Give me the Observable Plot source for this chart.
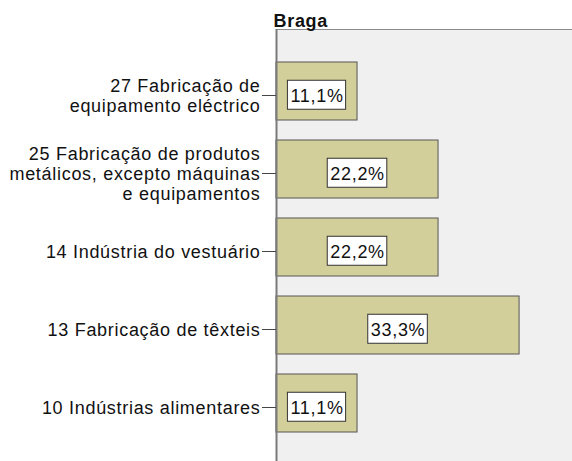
<!DOCTYPE html>
<html><head><meta charset="utf-8">
<script src="https://cdn.jsdelivr.net/npm/d3@7"></script>
<script src="https://cdn.jsdelivr.net/npm/@observablehq/plot@0.6"></script>
<style>
body{margin:0;background:#fff;}
svg{display:block}
svg text{letter-spacing:0.7px}
</style>
</head><body>
<script>
const title = "Braga";
const categories = [
  "27 Fabricação de\nequipamento eléctrico",
  "25 Fabricação de produtos\nmetálicos, excepto máquinas\ne equipamentos",
  "14 Indústria do vestuário",
  "13 Fabricação de têxteis",
  "10 Indústrias alimentares"
];
const percents = [11.1, 22.2, 22.2, 33.3, 11.1];
const xMax = 40.55;

const data = categories.map((c, i) => ({
  category: c,
  value: percents[i],
  label: percents[i].toFixed(1).replace(".", ",") + "%"
}));

const font = "'Liberation Sans', Arial, sans-serif";
const chart = Plot.plot({
  width: 572, height: 461,
  marginLeft: 276, marginRight: 0, marginTop: 29, marginBottom: 0,
  style: {fontFamily: font, background: "#fff", overflow: "visible", color: "#111"},
  x: {domain: [0, xMax], axis: null},
  y: {domain: categories, paddingInner: 0.26, paddingOuter: 0.13, insetTop: 21, insetBottom: 16.5, label: null, axis: null},
  marks: [
    Plot.frame({fill: "#f0f0f0", stroke: null}),
    Plot.frame({anchor: "top", stroke: "#8c8c8c"}),
    Plot.barX(data, {y: "category", x: "value", fill: "#d3cf9a", stroke: "#555", strokeWidth: 1}),
    Plot.ruleX([0], {stroke: "#7a7a7a", strokeWidth: 2}),
    Plot.axisY({tickSize: 14, tickPadding: 2, fontSize: 18, lineHeight: 1.1, dy: 4, stroke: "#444", fill: "#111", label: null}),
    Plot.text(data, {y: "category", x: d => d.value / 2, text: "label", fontSize: 18, dy: 5, fill: "#111", className: "bar-label"}),
    Plot.text([title], {frameAnchor: "top-left", lineAnchor: "bottom", fontSize: 18, fontWeight: "bold", textAnchor: "start", dx: -3, dy: -3, fill: "#111"})
  ]
});
document.body.append(chart);

const labelTexts = Array.from(chart.querySelectorAll("text"))
  .filter(t => data.some(d => d.label === t.textContent) && t.closest("g[aria-label='text']"));
labelTexts.forEach(t => {
  const b = t.getBBox();
  const r = document.createElementNS("http://www.w3.org/2000/svg", "rect");
  r.setAttribute("x", b.x - 3);
  r.setAttribute("y", b.y - 6);
  r.setAttribute("width", b.width + 5);
  r.setAttribute("height", b.height + 9);
  r.setAttribute("fill", "#fff");
  r.setAttribute("stroke", "#333");
  r.setAttribute("stroke-width", 1);
  const tr = t.getAttribute("transform");
  if (tr) r.setAttribute("transform", tr);
  t.parentNode.insertBefore(r, t);
});
</script>
</body></html>
